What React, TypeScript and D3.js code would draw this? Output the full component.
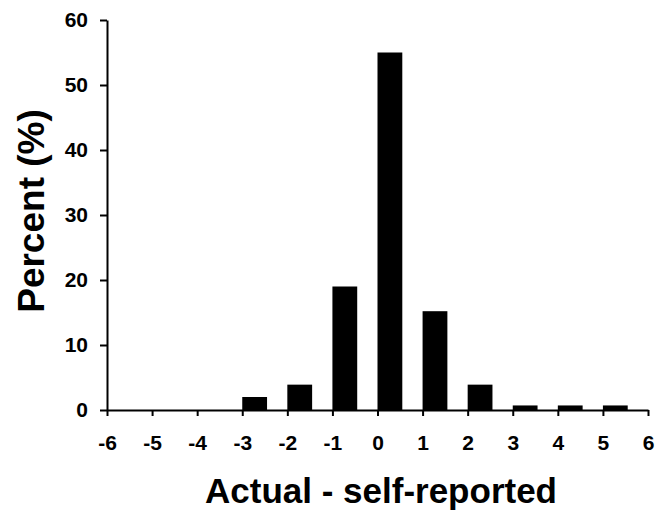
import * as d3 from "d3";
import { useEffect, useRef } from "react";

// difference (actual - self-reported), bar starts at this value
const categories = [-6, -5, -4, -3, -2, -1, 0, 1, 2, 3, 4, 5];
const percents = [0, 0, 0, 2, 3.9, 19, 55, 15.2, 3.9, 0.7, 0.7, 0.7];
const xTicks = [-6, -5, -4, -3, -2, -1, 0, 1, 2, 3, 4, 5, 6];
const yTicks = [0, 10, 20, 30, 40, 50, 60];

const FONT = "'Liberation Sans', Arial, Helvetica, sans-serif";

const App = () => {
  const svgRef = useRef<SVGSVGElement>(null);

  useEffect(() => {
    const svg = d3.select(svgRef.current);
    svg.selectAll("*").remove();

    const x = d3.scaleLinear().domain([-6, 6]).range([107, 648]);
    const y = d3.scaleLinear().domain([0, 60]).range([410, 20]);
    const barW = x(0.55) - x(0);

    // bars
    svg
      .append("g")
      .selectAll("rect")
      .data(categories)
      .enter()
      .append("rect")
      .attr("x", (d) => x(d))
      .attr("y", (d, i) => y(percents[i]))
      .attr("width", barW)
      .attr("height", (d, i) => y(0) - y(percents[i]))
      .attr("fill", "#000");

    // y axis
    const gy = svg
      .append("g")
      .attr("transform", `translate(${x(-6)},0)`)
      .call(
        d3
          .axisLeft(y)
          .tickValues(yTicks)
          .tickFormat(d3.format("d"))
          .tickSize(7)
          .tickSizeOuter(0)
          .tickPadding(12)
      );

    // x axis
    const gx = svg
      .append("g")
      .attr("transform", `translate(0,${y(0)})`)
      .call(
        d3
          .axisBottom(x)
          .tickValues(xTicks)
          .tickFormat(d3.format("d"))
          .tickSize(6)
          .tickSizeOuter(0)
          .tickPadding(19)
      );

    [gy, gx].forEach((g) => {
      g.attr("font-size", null).attr("font-family", null);
      g.select(".domain").attr("stroke", "#000").attr("stroke-width", 2);
      g.selectAll(".tick line").attr("stroke", "#000").attr("stroke-width", 2);
      g.selectAll(".tick text")
        .attr("fill", "#000")
        .style("font-family", FONT)
        .style("font-weight", "bold")
        .style("font-size", "21px");
    });
    // hyphen-minus like the original
    gx.selectAll(".tick text").text((d: any) => String(d));

    // axis titles
    svg
      .append("text")
      .attr("transform", "translate(44,211) rotate(-90)")
      .attr("text-anchor", "middle")
      .attr("font-family", FONT)
      .attr("font-weight", "bold")
      .attr("font-size", 37)
      .attr("fill", "#000")
      .text("Percent (%)");

    svg
      .append("text")
      .attr("x", 381)
      .attr("y", 503)
      .attr("text-anchor", "middle")
      .attr("font-family", FONT)
      .attr("font-weight", "bold")
      .attr("font-size", 35)
      .attr("fill", "#000")
      .text("Actual - self-reported");
  }, []);

  return (
    <svg
      ref={svgRef}
      width={658}
      height={516}
      style={{ position: "absolute", left: 0, top: 0, background: "#fff" }}
    ></svg>
  );
};

export default App;
